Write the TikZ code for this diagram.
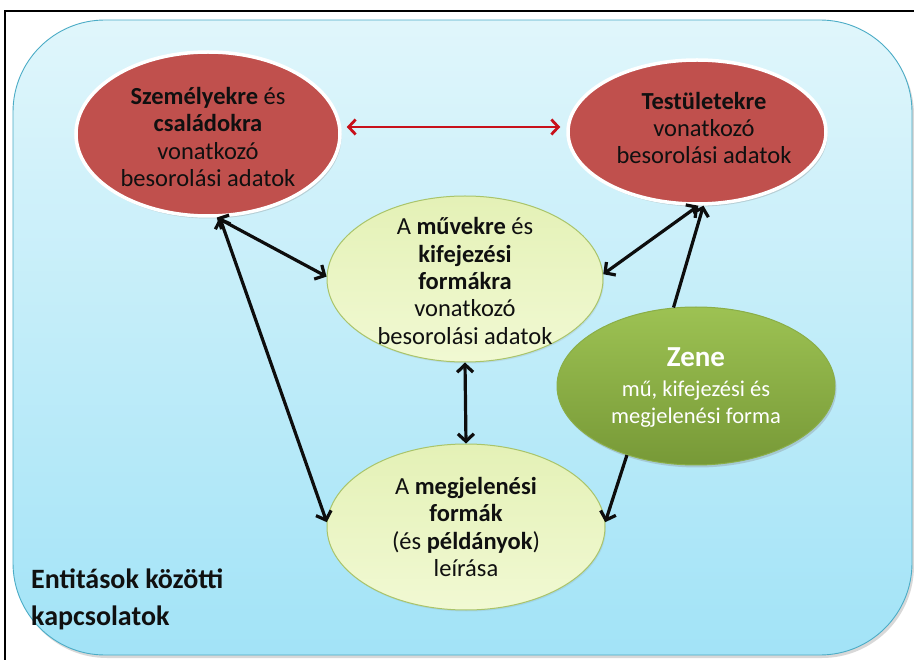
\documentclass[tikz,border=0pt]{standalone}
\usepackage{fontspec}
\setmainfont{Carlito}
\usetikzlibrary{shapes.geometric,arrows.meta,shadows}
\definecolor{bgtop}{HTML}{E0F6FB}
\definecolor{bgbot}{HTML}{A2E3F7}
\definecolor{bgline}{HTML}{4BACC6}
\definecolor{redfill}{HTML}{C0504D}
\definecolor{ltgtop}{HTML}{E4F1B6}
\definecolor{ltgbot}{HTML}{F1F9D3}
\definecolor{ltgline}{HTML}{A9C46A}
\definecolor{zetop}{HTML}{9DC253}
\definecolor{zebot}{HTML}{779937}
\definecolor{zeline}{HTML}{8AAE47}
\definecolor{arrred}{HTML}{C8101A}
\definecolor{txt}{HTML}{101010}
\begin{document}
\begin{tikzpicture}[x=1pt,y=-1pt,
  redell/.style={ellipse, fill=redfill, draw=white, line width=3.5pt, inner sep=0pt,
    drop shadow={opacity=0.3,shadow xshift=1.5pt,shadow yshift=-2.5pt}},
  grnell/.style={ellipse, top color=ltgtop, bottom color=ltgbot, draw=ltgline, line width=1pt, inner sep=0pt,
    drop shadow={opacity=0.15,shadow xshift=1pt,shadow yshift=-1.5pt}},
  zeell/.style={ellipse, top color=zetop, bottom color=zebot, draw=zeline, line width=1pt, inner sep=0pt,
    drop shadow={opacity=0.3,shadow xshift=1.5pt,shadow yshift=-2.5pt}},
  elltext/.style={align=center, text=txt, inner sep=0pt, font=\fontsize{24.5}{27.3}\selectfont},
  dbl/.style={line width=3.2pt, draw=black!95, {Straight Barb[length=7.5pt,width=16pt]}-{Straight Barb[length=7.5pt,width=16pt]}},
  sgl/.style={line width=3.2pt, draw=black!95, -{Straight Barb[length=7.5pt,width=16pt]}},
  redarr/.style={line width=2.8pt, draw=arrred, {Straight Barb[length=7pt,width=15pt]}-{Straight Barb[length=7pt,width=15pt]}, shorten <=5pt, shorten >=6pt}
]
\useasboundingbox (0,0) rectangle (914,660);
\fill[white] (0,0) rectangle (914,660);
% outer frame
\draw[line width=1.6pt, black] (5,662) -- (5,11) -- (916,11);
% background
\shade[top color=bgtop, bottom color=bgbot, draw=bgline, line width=0.9pt, rounded corners=92pt,
  drop shadow={opacity=0.3,shadow xshift=2pt,shadow yshift=-3pt}]
  (13,20) rectangle (912,655);

% ellipses
\node[redell, minimum width=264pt, minimum height=164pt] (sz) at (208,134) {};
\node[redell, minimum width=258pt, minimum height=144pt] (te) at (697,132) {};
\node[grnell, minimum width=276pt, minimum height=166pt] (mu) at (465,279) {};
\node[grnell, minimum width=278pt, minimum height=166pt] (mj) at (466,527) {};
\node[zeell, minimum width=278pt, minimum height=158pt] (ze) at (696,386) {};

% texts
\node[elltext] (tsz) at (208,137) {\textbf{Személyekre} és\\\textbf{családokra}\\vonatkozó\\besorolási adatok};
\node[elltext] (tte) at (704,128) {\textbf{Testületekre}\\vonatkozó\\besorolási adatok};
\node[elltext] (tmu) at (465,281) {A \textbf{művekre} és\\\textbf{kifejezési}\\\textbf{formákra}\\vonatkozó\\besorolási adatok};
\node[elltext] (tmj) at (466,527) {A \textbf{megjelenési}\\\textbf{formák}\\(és \textbf{példányok})\\leírása};
\node[align=center, text=white, inner sep=0pt, font=\fontsize{22.5}{27}\selectfont] (tze) at (696,388)
  {{\fontsize{29}{30}\selectfont\textbf{Zene}}\\[3pt]mű, kifejezési és\\megjelenési forma};
\node[align=left, anchor=west, text=txt, inner sep=0pt, font=\fontsize{28}{37}\selectfont\bfseries] (tent) at (31,599)
  {Entitások közötti\\kapcsolatok};

% connectors
\coordinate (ra) at ([yshift=7pt]sz.east);
\coordinate (rb) at (ra -| te.west);
\draw[redarr] (ra) -- (rb);
\draw[dbl] (sz.-84) -- (mu.179);
\draw[dbl] (sz.-82) -- (mj.178);
\draw[dbl] (mu.south) -- (mj.north);
\draw[dbl] (te.-89) -- (mu.2);
\draw[sgl] (ze.106) -- (te.-85);
\draw[sgl] (ze.-135) -- (mj.2);
\end{tikzpicture}
\end{document}
